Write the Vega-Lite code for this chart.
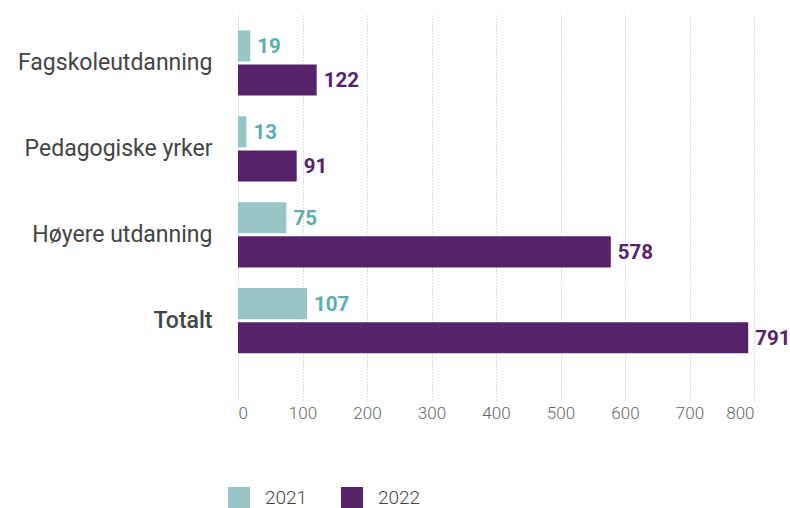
{
  "$schema": "https://vega.github.io/schema/vega-lite/v6.json",
  "autosize": {"type": "none"},
  "width": 516,
  "height": 386,
  "padding": {"left": 238, "top": 14, "right": 36, "bottom": 108},
  "background": "white",
  "config": {
    "view": {"stroke": null},
    "font": "Roboto"
  },
  "data": {
    "values": [
      {"kategori": "Fagskoleutdanning", "year": "2021", "value": 19},
      {"kategori": "Fagskoleutdanning", "year": "2022", "value": 122},
      {"kategori": "Pedagogiske yrker", "year": "2021", "value": 13},
      {"kategori": "Pedagogiske yrker", "year": "2022", "value": 91},
      {"kategori": "Høyere utdanning", "year": "2021", "value": 75},
      {"kategori": "Høyere utdanning", "year": "2022", "value": 578},
      {"kategori": "Totalt", "year": "2021", "value": 107},
      {"kategori": "Totalt", "year": "2022", "value": 791}
    ]
  },
  "encoding": {
    "y": {
      "field": "kategori",
      "type": "nominal",
      "sort": ["Fagskoleutdanning", "Pedagogiske yrker", "Høyere utdanning", "Totalt"],
      "scale": {"paddingInner": 0.241, "paddingOuter": 0.3675, "align": 0.26},
      "axis": {
        "title": null,
        "ticks": false,
        "domain": false,
        "labelPadding": 26,
        "labelLimit": 300,
        "labelFontSize": 23,
        "labelColor": "#444444",
        "labelFont": "Roboto",
        "labelFontWeight": {"condition": {"test": "datum.value === 'Totalt'", "value": 500}, "value": 400}
      }
    },
    "yOffset": {
      "field": "year",
      "type": "nominal",
      "scale": {"paddingInner": 0.088, "paddingOuter": 0}
    },
    "x": {
      "field": "value",
      "type": "quantitative",
      "scale": {"domain": [0, 800], "nice": false},
      "axis": {
        "title": null,
        "values": [0, 100, 200, 300, 400, 500, 600, 700, 800],
        "ticks": false,
        "tickSize": 0,
        "domain": false,
        "labelPadding": 5,
        "labelFontSize": 17,
        "labelFontWeight": 300,
        "labelColor": "#666666",
        "grid": true,
        "gridColor": "#bbbbbb",
        "gridDash": [1, 2],
        "gridWidth": 1
      }
    }
  },
  "layer": [
    {
      "mark": {"type": "bar"},
      "encoding": {
        "color": {
          "field": "year",
          "type": "nominal",
          "scale": {"domain": ["2021", "2022"], "range": ["#98c6c7", "#56236b"]},
          "legend": {
            "title": null,
            "orient": "none",
            "direction": "horizontal",
            "legendX": -10,
            "legendY": 473,
            "symbolType": "square",
            "symbolSize": 484,
            "symbolStrokeWidth": 0,
            "labelFontSize": 19,
            "labelFontWeight": 300,
            "labelColor": "#444444",
            "labelOffset": 15,
            "columnPadding": 33
          }
        }
      }
    },
    {
      "mark": {"type": "text", "align": "left", "baseline": "middle", "dx": 7, "dy": 1, "fontSize": 20.5, "fontWeight": "bold"},
      "encoding": {
        "text": {"field": "value", "type": "quantitative"},
        "color": {"condition": {"test": "datum.year === '2021'", "value": "#5aaeb0"}, "value": "#57236b"}
      }
    }
  ]
}
